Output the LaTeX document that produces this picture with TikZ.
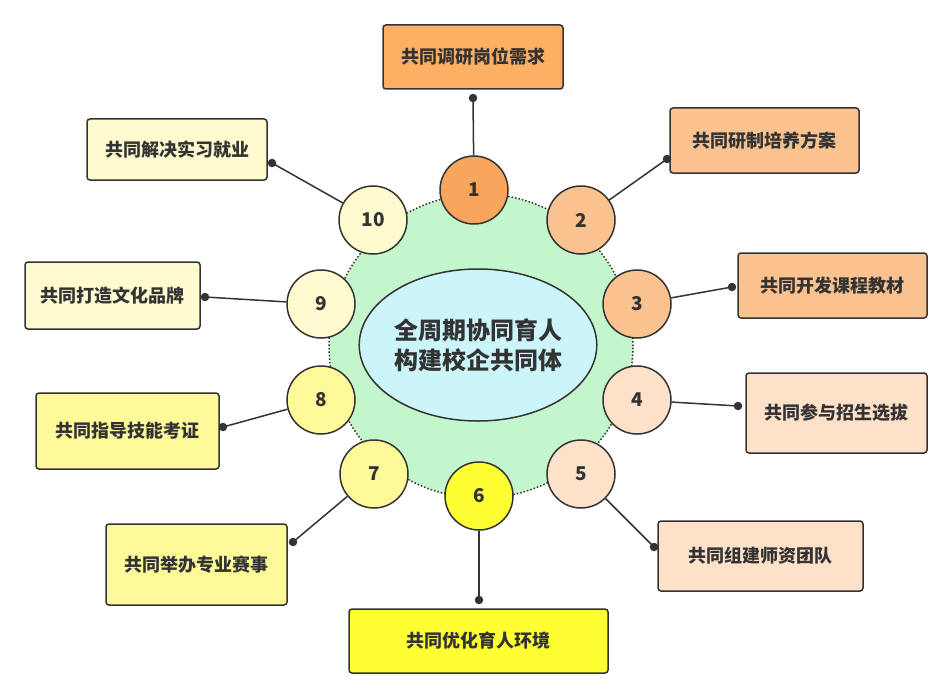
\documentclass[tikz,border=0pt]{standalone}
\usepackage{fontspec}
\usetikzlibrary{shapes.geometric}
\newfontfamily\cjk{Noto Sans CJK SC}
\definecolor{ink}{HTML}{333333}
\definecolor{cA}{HTML}{F8A55E}
\definecolor{bA}{HTML}{FDB064}
\definecolor{cB}{HTML}{F9C28E}
\definecolor{cC}{HTML}{FDE1C9}
\definecolor{cD}{HTML}{FFFF33}
\definecolor{cE}{HTML}{FFFA99}
\definecolor{cF}{HTML}{FFFBCF}
\definecolor{gbg}{HTML}{C4F6CC}
\definecolor{cyanbg}{HTML}{CCF5FA}
\tikzset{
  numc/.style={circle,draw=ink,line width=1.5pt,minimum size=68pt,inner sep=0pt,
    font=\cjk\bfseries\fontsize{19}{22}\selectfont,text=ink},
  boxn/.style={draw=ink,line width=1.5pt,rounded corners=3pt,inner sep=0pt,
    font=\cjk\bfseries\fontsize{18}{22}\selectfont,text=ink},
  conn/.style={draw=ink,line width=1.5pt},
  dotn/.style={circle,fill=ink,minimum size=8.5pt,inner sep=0pt},
}
\begin{document}
\begin{tikzpicture}[x=1pt,y=-1pt]
\useasboundingbox[fill=white] (0,0) rectangle (952,698);
% background disk
\node (disk) [circle,fill=gbg,draw=ink,dotted,line width=1.5pt,minimum size=304pt,inner sep=0pt] at (481,346) {};
\node (core) [ellipse,fill=cyanbg,draw=ink,line width=1.5pt,minimum width=190pt,minimum height=152pt,inner sep=0pt,
  font=\cjk\bfseries\fontsize{24}{30}\selectfont,text=ink,align=center] at (478,345) {全周期协同育人\\构建校企共同体};
% dots positions
\coordinate (d1) at (473,98);
\coordinate (d2) at (667,159);
\coordinate (d3) at (732,287);
\coordinate (d4) at (738,406);
\coordinate (d5) at (654,547);
\coordinate (d6) at (479,600);
\coordinate (d7) at (293,542);
\coordinate (d8) at (223,427);
\coordinate (d9) at (205,297);
\coordinate (d10) at (272,163);
% circles
\node (c1) [numc,fill=cA] at (474,190) {1};
\node (c2) [numc,fill=cB] at (581,220) {2};
\node (c3) [numc,fill=cB] at (637,304) {3};
\node (c4) [numc,fill=cC] at (637,400) {4};
\node (c5) [numc,fill=cC] at (581,474) {5};
\node (c6) [numc,fill=cD] at (479,496) {6};
\node (c7) [numc,fill=cE] at (374,474) {7};
\node (c8) [numc,fill=cE] at (321,400) {8};
\node (c9) [numc,fill=cF] at (321,304) {9};
\node (c10) [numc,fill=cF] at (373,220) {10};
% connectors
\foreach \i in {1,...,10} {\draw[conn] (c\i) -- (d\i);}
% boxes
\node (b1) [boxn,fill=bA,minimum width=180pt,minimum height=64pt] at (473,57) {共同调研岗位需求};
\node (b2) [boxn,fill=cB,minimum width=189pt,minimum height=65pt] at (764.5,140.5) {共同研制培养方案};
\node (b3) [boxn,fill=cB,minimum width=189pt,minimum height=65pt] at (832.5,285.5) {共同开发课程教材};
\node (b4) [boxn,fill=cC,minimum width=181pt,minimum height=80pt] at (836.5,413) {共同参与招生选拔};
\node (b5) [boxn,fill=cC,minimum width=205pt,minimum height=70pt] at (760.5,556) {共同组建师资团队};
\node (b6) [boxn,fill=cD,minimum width=259pt,minimum height=64pt] at (478.5,641) {共同优化育人环境};
\node (b7) [boxn,fill=cE,minimum width=181pt,minimum height=81pt] at (196.5,564.5) {共同举办专业赛事};
\node (b8) [boxn,fill=cE,minimum width=183pt,minimum height=76pt] at (127.5,431) {共同指导技能考证};
\node (b9) [boxn,fill=cF,minimum width=175pt,minimum height=67pt] at (112.5,295.5) {共同打造文化品牌};
\node (b10) [boxn,fill=cF,minimum width=180pt,minimum height=61pt] at (177,149.5) {共同解决实习就业};
% dots
\foreach \i in {1,...,10} {\node (p\i) [dotn] at (d\i) {};}
\end{tikzpicture}
\end{document}
